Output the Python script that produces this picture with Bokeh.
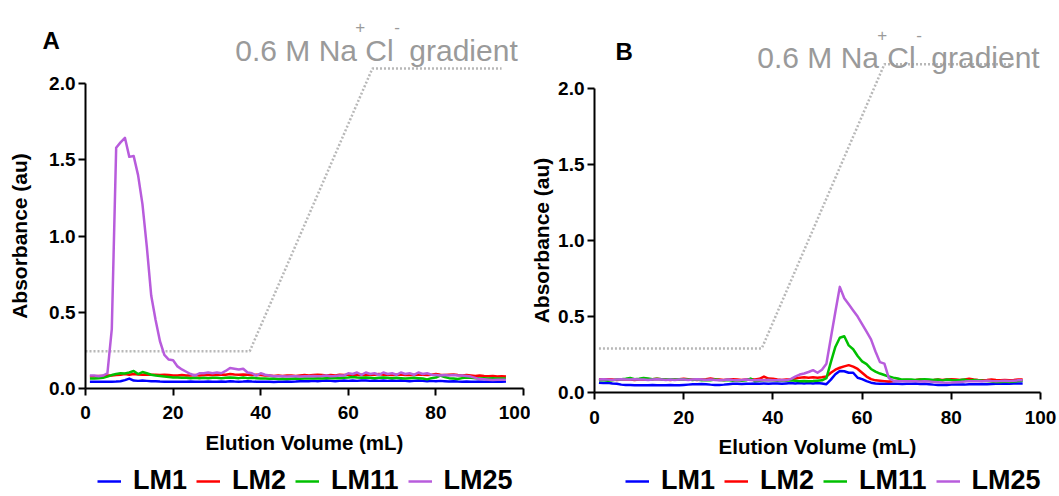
from bokeh.plotting import figure
from bokeh.models import Legend, LegendItem, Label, FixedTicker, NumeralTickFormatter
from bokeh.layouts import row
from bokeh.embed import file_html
from bokeh.resources import INLINE

# ---------------- data ----------------
volume = list(range(1, 97))  # elution volume (mL)

series_names = ["LM1", "LM2", "LM11", "LM25"]
colors = ["#0000ff", "#ff0000", "#00c000", "#b85cdc"]

# Panel A
a_lm1 = [0.045, 0.045, 0.045, 0.044, 0.045, 0.045, 0.046, 0.048, 0.055, 0.065,
         0.052, 0.050, 0.052, 0.050, 0.048, 0.048, 0.046, 0.045, 0.045, 0.044,
         0.045, 0.044, 0.045, 0.046, 0.045, 0.044, 0.045, 0.046, 0.045, 0.044,
         0.046, 0.045, 0.048, 0.046, 0.045, 0.046, 0.048, 0.046, 0.045, 0.044,
         0.045, 0.044, 0.043, 0.044, 0.045, 0.046, 0.045, 0.046, 0.048, 0.047,
         0.048, 0.050, 0.048, 0.050, 0.052, 0.050, 0.048, 0.050, 0.052, 0.050,
         0.052, 0.050, 0.052, 0.053, 0.050, 0.052, 0.050, 0.052, 0.050, 0.052,
         0.050, 0.052, 0.050, 0.048, 0.050, 0.052, 0.050, 0.048, 0.050, 0.048,
         0.050, 0.048, 0.046, 0.048, 0.046, 0.045, 0.046, 0.044, 0.045, 0.046,
         0.045, 0.046, 0.045, 0.046, 0.045, 0.046]
a_lm2 = [0.080, 0.080, 0.082, 0.082, 0.085, 0.085, 0.088, 0.090, 0.095, 0.090,
         0.095, 0.092, 0.090, 0.092, 0.090, 0.090, 0.088, 0.090, 0.088, 0.085,
         0.085, 0.088, 0.085, 0.085, 0.088, 0.085, 0.088, 0.090, 0.088, 0.090,
         0.092, 0.090, 0.095, 0.092, 0.090, 0.092, 0.090, 0.088, 0.090, 0.088,
         0.085, 0.085, 0.082, 0.085, 0.082, 0.085, 0.085, 0.082, 0.085, 0.088,
         0.085, 0.088, 0.090, 0.088, 0.085, 0.088, 0.085, 0.090, 0.088, 0.090,
         0.092, 0.088, 0.090, 0.088, 0.092, 0.090, 0.095, 0.090, 0.092, 0.088,
         0.090, 0.092, 0.088, 0.090, 0.088, 0.092, 0.090, 0.088, 0.090, 0.095,
         0.090, 0.088, 0.090, 0.092, 0.088, 0.085, 0.088, 0.085, 0.082, 0.085,
         0.082, 0.080, 0.082, 0.078, 0.080, 0.078]
a_lm11 = [0.065, 0.065, 0.068, 0.070, 0.078, 0.088, 0.095, 0.100, 0.098, 0.105,
          0.115, 0.095, 0.108, 0.100, 0.090, 0.085, 0.082, 0.078, 0.075, 0.072,
          0.072, 0.070, 0.070, 0.068, 0.070, 0.068, 0.070, 0.068, 0.070, 0.070,
          0.068, 0.070, 0.072, 0.070, 0.068, 0.072, 0.068, 0.070, 0.068, 0.066,
          0.065, 0.064, 0.065, 0.063, 0.064, 0.062, 0.064, 0.065, 0.064, 0.066,
          0.065, 0.066, 0.068, 0.066, 0.068, 0.067, 0.069, 0.068, 0.070, 0.072,
          0.075, 0.072, 0.070, 0.072, 0.070, 0.068, 0.070, 0.072, 0.070, 0.068,
          0.070, 0.068, 0.066, 0.068, 0.070, 0.068, 0.066, 0.060, 0.068, 0.072,
          0.085, 0.075, 0.068, 0.065, 0.062, 0.068, 0.072, 0.070, 0.068, 0.065,
          0.068, 0.066, 0.068, 0.066, 0.065, 0.065]
a_lm25 = [0.085, 0.085, 0.080, 0.085, 0.100, 0.390, 1.580, 1.615, 1.645, 1.520,
          1.525, 1.400, 1.210, 0.930, 0.610, 0.450, 0.310, 0.220, 0.190, 0.185,
          0.145, 0.125, 0.110, 0.095, 0.085, 0.100, 0.100, 0.105, 0.100, 0.105,
          0.100, 0.115, 0.135, 0.130, 0.125, 0.130, 0.105, 0.100, 0.085, 0.100,
          0.090, 0.085, 0.080, 0.080, 0.080, 0.078, 0.080, 0.080, 0.078, 0.080,
          0.080, 0.082, 0.080, 0.082, 0.085, 0.080, 0.082, 0.085, 0.085, 0.100,
          0.095, 0.105, 0.090, 0.105, 0.095, 0.100, 0.090, 0.105, 0.095, 0.100,
          0.090, 0.105, 0.095, 0.100, 0.090, 0.105, 0.095, 0.100, 0.090, 0.088,
          0.085, 0.088, 0.085, 0.088, 0.085, 0.085, 0.082, 0.078, 0.070, 0.060,
          0.060, 0.058, 0.055, 0.058, 0.058, 0.058]

# Panel B
b_lm1 = [0.065, 0.062, 0.065, 0.060, 0.058, 0.052, 0.050, 0.050, 0.048, 0.048,
         0.048, 0.048, 0.050, 0.048, 0.048, 0.048, 0.050, 0.048, 0.048, 0.050,
         0.052, 0.054, 0.055, 0.056, 0.055, 0.052, 0.050, 0.050, 0.052, 0.055,
         0.058, 0.058, 0.056, 0.058, 0.058, 0.060, 0.058, 0.060, 0.058, 0.060,
         0.060, 0.058, 0.060, 0.062, 0.060, 0.062, 0.060, 0.062, 0.060, 0.062,
         0.060, 0.055, 0.085, 0.120, 0.142, 0.140, 0.130, 0.130, 0.097, 0.088,
         0.075, 0.065, 0.060, 0.058, 0.058, 0.060, 0.058, 0.058, 0.056, 0.058,
         0.058, 0.060, 0.056, 0.058, 0.055, 0.052, 0.050, 0.050, 0.050, 0.052,
         0.052, 0.053, 0.052, 0.054, 0.055, 0.054, 0.056, 0.055, 0.056, 0.058,
         0.058, 0.057, 0.058, 0.060, 0.060, 0.060]
b_lm2 = [0.088, 0.085, 0.088, 0.085, 0.082, 0.085, 0.088, 0.085, 0.082, 0.085,
         0.088, 0.085, 0.088, 0.090, 0.088, 0.085, 0.082, 0.085, 0.088, 0.090,
         0.088, 0.085, 0.082, 0.085, 0.088, 0.092, 0.088, 0.085, 0.082, 0.085,
         0.088, 0.085, 0.082, 0.085, 0.088, 0.085, 0.090, 0.105, 0.092, 0.090,
         0.085, 0.082, 0.085, 0.088, 0.092, 0.098, 0.100, 0.098, 0.100, 0.098,
         0.100, 0.105, 0.130, 0.150, 0.163, 0.172, 0.180, 0.170, 0.155, 0.130,
         0.105, 0.088, 0.080, 0.078, 0.075, 0.072, 0.075, 0.078, 0.080, 0.082,
         0.080, 0.082, 0.085, 0.082, 0.080, 0.082, 0.085, 0.082, 0.085, 0.088,
         0.085, 0.082, 0.085, 0.090, 0.085, 0.082, 0.080, 0.082, 0.085, 0.082,
         0.080, 0.082, 0.080, 0.082, 0.085, 0.085]
b_lm11 = [0.080, 0.082, 0.078, 0.080, 0.085, 0.088, 0.090, 0.095, 0.088, 0.090,
          0.095, 0.092, 0.088, 0.090, 0.088, 0.086, 0.088, 0.085, 0.088, 0.085,
          0.085, 0.082, 0.085, 0.080, 0.082, 0.080, 0.085, 0.082, 0.080, 0.082,
          0.078, 0.080, 0.078, 0.080, 0.092, 0.075, 0.078, 0.080, 0.082, 0.080,
          0.078, 0.080, 0.078, 0.080, 0.078, 0.075, 0.076, 0.075, 0.076, 0.078,
          0.080, 0.095, 0.200, 0.300, 0.360, 0.370, 0.310, 0.285, 0.240, 0.205,
          0.187, 0.155, 0.138, 0.125, 0.115, 0.105, 0.098, 0.092, 0.085, 0.085,
          0.085, 0.082, 0.085, 0.088, 0.085, 0.082, 0.085, 0.080, 0.085, 0.082,
          0.080, 0.082, 0.085, 0.078, 0.082, 0.080, 0.078, 0.075, 0.072, 0.070,
          0.070, 0.072, 0.070, 0.072, 0.075, 0.078]
b_lm25 = [0.085, 0.088, 0.085, 0.082, 0.085, 0.088, 0.085, 0.085, 0.088, 0.085,
          0.085, 0.082, 0.085, 0.088, 0.085, 0.082, 0.085, 0.082, 0.085, 0.085,
          0.082, 0.085, 0.088, 0.085, 0.082, 0.085, 0.082, 0.080, 0.082, 0.085,
          0.082, 0.080, 0.082, 0.085, 0.082, 0.080, 0.082, 0.080, 0.082, 0.080,
          0.080, 0.082, 0.080, 0.088, 0.105, 0.118, 0.125, 0.135, 0.147, 0.130,
          0.150, 0.190, 0.360, 0.530, 0.695, 0.620, 0.580, 0.540, 0.500, 0.450,
          0.400, 0.350, 0.270, 0.200, 0.190, 0.095, 0.078, 0.075, 0.075, 0.074,
          0.075, 0.074, 0.072, 0.074, 0.072, 0.070, 0.068, 0.066, 0.065, 0.066,
          0.068, 0.070, 0.072, 0.075, 0.074, 0.076, 0.075, 0.078, 0.076, 0.075,
          0.076, 0.078, 0.076, 0.078, 0.080, 0.080]

# NaCl gradient profile (dotted line)
grad_a_x = [0, 37.5, 65.5, 95]
grad_a_y = [0.245, 0.245, 2.1, 2.1]
grad_b_x = [1, 37.5, 65, 94]
grad_b_y = [0.29, 0.29, 2.16, 2.16]

x_ticks = [0, 20, 40, 60, 80, 100]
y_ticks = [0.0, 0.5, 1.0, 1.5, 2.0]

for s in (a_lm1, a_lm2, a_lm11, a_lm25, b_lm1, b_lm2, b_lm11, b_lm25):
    assert len(s) == len(volume)

FONT = "Liberation Sans"


def make_panel(series, gx, gy, letter, width, xr, yr, ylab_standoff,
               legend_loc, letter_pos, note_pos):
    # The frame covers the whole canvas; axes are pinned at x=0 / y=0.
    p = figure(width=width, height=496, x_range=xr, y_range=yr,
               output_backend="svg", toolbar_location=None, min_border=0)
    p.xgrid.visible = False
    p.ygrid.visible = False
    p.outline_line_color = None
    p.background_fill_color = "white"
    p.border_fill_color = "white"

    # gradient line
    p.line(gx, gy, line_color="#b8b8b8", line_width=2.5, line_dash="2 2")

    renderers = []
    for name, col, vals in zip(series_names, colors, series):
        r = p.line(volume, vals, line_color=col, line_width=2.5,
                   line_join="round")
        renderers.append((name, r))

    for ax in (p.xaxis[0], p.yaxis[0]):
        ax.fixed_location = 0
        ax.axis_line_width = 2
        ax.axis_line_color = "black"
        ax.major_tick_line_width = 2
        ax.major_tick_line_color = "black"
        ax.major_tick_in = 0
        ax.major_tick_out = 7
        ax.minor_tick_in = 0
        ax.minor_tick_out = 0
        ax.major_label_text_font = FONT
        ax.major_label_text_font_style = "bold"
        ax.major_label_text_font_size = "19px"
        ax.major_label_text_color = "black"
        ax.axis_label_text_font = FONT
        ax.axis_label_text_font_style = "bold"
        ax.axis_label_text_color = "black"

    p.xaxis[0].ticker = FixedTicker(ticks=x_ticks)
    p.xaxis[0].bounds = (0, 100)
    p.xaxis[0].axis_label = "Elution Volume (mL)"
    p.xaxis[0].axis_label_text_font_size = "20.5px"
    p.xaxis[0].major_label_standoff = 11
    p.xaxis[0].axis_label_standoff = 8

    p.yaxis[0].ticker = FixedTicker(ticks=y_ticks)
    p.yaxis[0].formatter = NumeralTickFormatter(format="0.0")
    p.yaxis[0].bounds = (0, 2)
    p.yaxis[0].axis_label = "Absorbance (au)"
    p.yaxis[0].axis_label_text_font_size = "21px"
    p.yaxis[0].major_label_standoff = 3
    p.yaxis[0].axis_label_standoff = ylab_standoff

    legend = Legend(items=[LegendItem(label=n, renderers=[r]) for n, r in renderers],
                    orientation="horizontal", location=legend_loc,
                    label_text_font=FONT, label_text_font_style="bold",
                    label_text_font_size="27px", label_text_color="black",
                    glyph_width=24, label_standoff=12, spacing=9,
                    padding=0, margin=0, border_line_color=None,
                    background_fill_alpha=0)
    p.add_layout(legend)

    lx, ly = letter_pos
    p.add_layout(Label(x=lx, y=ly, text=letter, text_font=FONT,
                       text_font_style="bold", text_font_size="24px",
                       text_color="black", text_baseline="alphabetic"))

    nx, ny, nsy = note_pos
    grey = "#9a9a9a"
    pieces = [("0.6 M Na", 0, ny, "30px"), ("+", 120, nsy, "17px"),
              ("Cl", 130, ny, "30px"), ("-", 159, nsy, "17px"),
              ("gradient", 174, ny, "30px")]
    for t, off, yy, fs in pieces:
        p.add_layout(Label(x=nx, y=yy, x_offset=off, text=t, text_font=FONT,
                           text_font_size=fs, text_color=grey,
                           text_baseline="alphabetic", text_align="left"))
    return p


pA = make_panel([a_lm1, a_lm2, a_lm11, a_lm25], grad_a_x, grad_a_y, "A",
                width=530, xr=(-19.41, 101.6), yr=(-0.7087, 2.546),
                ylab_standoff=15, legend_loc=(97, 0),
                letter_pos=(-9.8, 2.283), note_pos=(34.2, 2.218, 2.375))
pB = make_panel([b_lm1, b_lm2, b_lm11, b_lm25], grad_b_x, grad_b_y, "B",
                width=529, xr=(-14.35, 104.26), yr=(-0.684, 2.579),
                ylab_standoff=2, legend_loc=(95, 0),
                letter_pos=(4.7, 2.243), note_pos=(36.5, 2.204, 2.355))

layout = row(pA, pB)
open("out.html", "w").write(file_html(layout, INLINE))
